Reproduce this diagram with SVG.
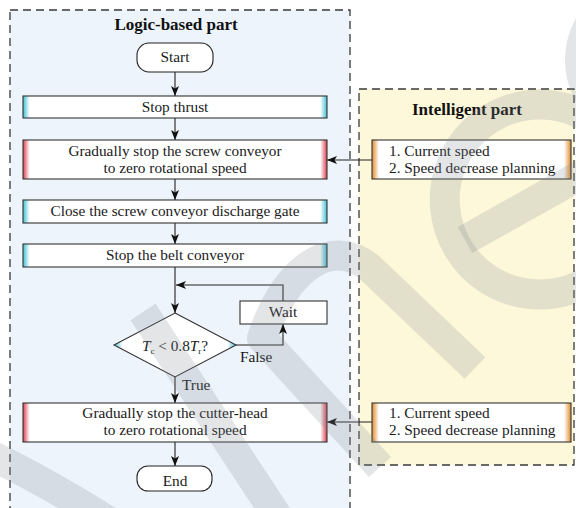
<svg xmlns="http://www.w3.org/2000/svg" width="576" height="508" viewBox="0 0 576 508">
  <style>
    .panel { stroke: #3a3a3a; stroke-width: 1.3; stroke-dasharray: 8 5; }
    .box { stroke: #333; stroke-width: 1.1; }
    .term { fill: #fff; stroke: #222; stroke-width: 1.1; }
    .t { font-family: "Liberation Serif", "Times New Roman", serif; font-size: 15.3px; fill: #1a1a1a; }
    .c { text-anchor: middle; }
    .title { font-family: "Liberation Serif", "Times New Roman", serif; font-size: 17px; font-weight: bold; fill: #111; text-anchor: middle; }
    .edge { fill: none; stroke: #222; stroke-width: 1.1; }
    .wm { fill: none; stroke: #808890; stroke-opacity: 0.22; stroke-width: 30; stroke-linecap: butt; stroke-linejoin: round; }
  </style>
  <defs>
    <linearGradient id="gCyan" x1="0" y1="0" x2="1" y2="0">
      <stop offset="0" stop-color="#3fbfd4"/>
      <stop offset="0.022" stop-color="#ffffff"/>
      <stop offset="0.978" stop-color="#ffffff"/>
      <stop offset="1" stop-color="#3fbfd4"/>
    </linearGradient>
    <linearGradient id="gRed" x1="0" y1="0" x2="1" y2="0">
      <stop offset="0" stop-color="#d8404e"/>
      <stop offset="0.022" stop-color="#ffffff"/>
      <stop offset="0.978" stop-color="#ffffff"/>
      <stop offset="1" stop-color="#d8404e"/>
    </linearGradient>
    <linearGradient id="gOrange" x1="0" y1="0" x2="1" y2="0">
      <stop offset="0" stop-color="#e08a2c"/>
      <stop offset="0.035" stop-color="#ffffff"/>
      <stop offset="0.965" stop-color="#ffffff"/>
      <stop offset="1" stop-color="#e08a2c"/>
    </linearGradient>
    <linearGradient id="gDiamond" x1="0" y1="0" x2="1" y2="0">
      <stop offset="0" stop-color="#3fbfd4"/>
      <stop offset="0.07" stop-color="#ffffff"/>
      <stop offset="0.93" stop-color="#ffffff"/>
      <stop offset="1" stop-color="#3fbfd4"/>
    </linearGradient>
    <marker id="arrow" viewBox="0 0 10 8" refX="10" refY="4" markerWidth="10" markerHeight="8" markerUnits="userSpaceOnUse" orient="auto">
      <path d="M0,0 L10,4 L0,8 L2.5,4 z" fill="#111"/>
    </marker>
  </defs>

  <rect width="576" height="508" fill="#ffffff"/>

  <!-- panels -->
  <g id="logic-panel">
    <rect class="panel" x="10" y="10" width="340" height="510" fill="#edf4fb"/>
    <text class="title" x="176" y="30">Logic-based part</text>
  </g>
  <g id="intelligent-panel">
    <rect class="panel" x="359" y="89" width="215" height="376" fill="#fef8da"/>
    <text class="title" x="467" y="115">Intelligent part</text>
  </g>

  <!-- connectors -->
  <g id="connectors">
    <path class="edge" d="M175,72 V96" marker-end="url(#arrow)"/>
    <path class="edge" d="M175,118 V140" marker-end="url(#arrow)"/>
    <path class="edge" d="M175,179 V200" marker-end="url(#arrow)"/>
    <path class="edge" d="M175,223 V244" marker-end="url(#arrow)"/>
    <path class="edge" d="M175,267 V313" marker-end="url(#arrow)"/>
    <path class="edge" d="M283,301 V285 H176" marker-end="url(#arrow)"/>
    <path class="edge" d="M236,345 H283 V324" marker-end="url(#arrow)"/>
    <path class="edge" d="M175,377 V403" marker-end="url(#arrow)"/>
    <path class="edge" d="M175,442 V466" marker-end="url(#arrow)"/>
    <path class="edge" d="M372,160 H327" marker-end="url(#arrow)"/>
    <path class="edge" d="M372,422 H327" marker-end="url(#arrow)"/>
    <text class="t" x="240" y="362">False</text>
    <text class="t" x="182" y="390">True</text>
  </g>

  <!-- flow nodes -->
  <g id="start">
    <rect class="term" x="137" y="43" width="76" height="29" rx="12"/>
    <text class="t c" x="175" y="62">Start</text>
  </g>
  <g id="stop-thrust">
    <rect class="box" x="23" y="96" width="304" height="22" fill="url(#gCyan)"/>
    <text class="t c" x="175" y="112">Stop thrust</text>
  </g>
  <g id="stop-screw">
    <rect class="box" x="23" y="140" width="304" height="39" fill="url(#gRed)"/>
    <text class="t c" x="175" y="156">Gradually stop the screw conveyor</text>
    <text class="t c" x="175" y="173">to zero rotational speed</text>
  </g>
  <g id="close-gate">
    <rect class="box" x="23" y="200" width="304" height="23" fill="url(#gCyan)"/>
    <text class="t c" x="175" y="216">Close the screw conveyor discharge gate</text>
  </g>
  <g id="stop-belt">
    <rect class="box" x="23" y="244" width="304" height="23" fill="url(#gCyan)"/>
    <text class="t c" x="175" y="260">Stop the belt conveyor</text>
  </g>
  <g id="torque-check">
    <polygon class="box" points="175,313 236,345 175,377 114,345" fill="url(#gDiamond)"/>
    <text class="t c" x="175" y="351" font-size="15"><tspan font-style="italic">T</tspan><tspan font-size="9" dy="3">c</tspan><tspan dy="-3"> &lt; 0.8</tspan><tspan font-style="italic">T</tspan><tspan font-size="9" dy="3">r</tspan><tspan dy="-3">?</tspan></text>
  </g>
  <g id="wait">
    <rect class="box" x="240" y="301" width="87" height="23" fill="#fff"/>
    <text class="t c" x="283" y="317">Wait</text>
  </g>
  <g id="stop-cutter">
    <rect class="box" x="23" y="403" width="304" height="39" fill="url(#gRed)"/>
    <text class="t c" x="175" y="418">Gradually stop the cutter-head</text>
    <text class="t c" x="175" y="435">to zero rotational speed</text>
  </g>
  <g id="end">
    <rect class="term" x="137" y="466" width="75" height="25" rx="11"/>
    <text class="t c" x="175" y="486">End</text>
  </g>

  <!-- intelligent part inputs -->
  <g id="screw-speed-plan">
    <rect class="box" x="372" y="140" width="199" height="39" fill="url(#gOrange)"/>
    <text class="t" x="389" y="156">1. Current speed</text>
    <text class="t" x="389" y="173">2. Speed decrease planning</text>
  </g>
  <g id="cutter-speed-plan">
    <rect class="box" x="372" y="403" width="199" height="39" fill="url(#gOrange)"/>
    <text class="t" x="389" y="418">1. Current speed</text>
    <text class="t" x="389" y="435">2. Speed decrease planning</text>
  </g>

  <!-- faint background mark over the figure -->
  <g id="mark">
    <path class="wm" d="M-20,450 Q40,478 110,522"/>
    <path class="wm" d="M143,312 L285,528"/>
    <path class="wm" d="M380,467 L262,338 C285,270 330,235 370,268 L475,368"/>
    <path class="wm" d="M622,152 A95,95 0 1 0 629,232"/>
    <path class="wm" d="M465,240 L620,153"/>
    <circle class="wm" cx="650" cy="60" r="70"/>
  </g>
</svg>
